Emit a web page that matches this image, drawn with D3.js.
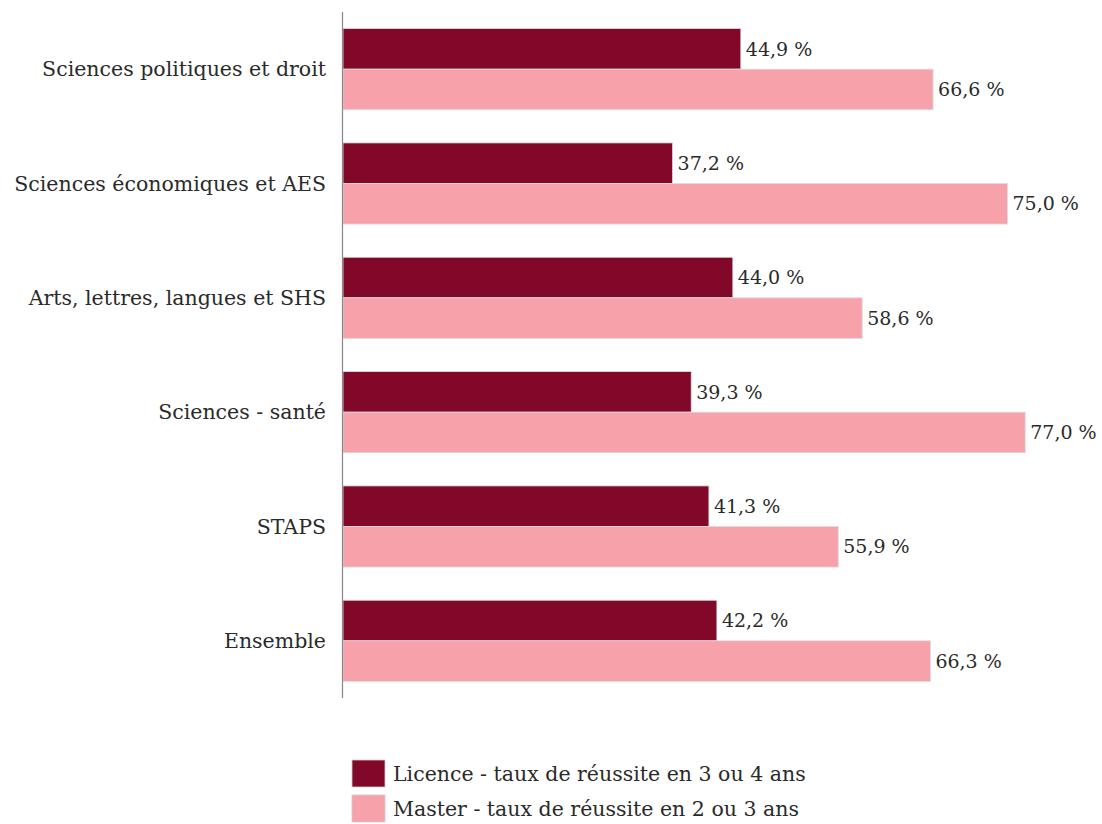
<!DOCTYPE html>
<html>
<head>
<meta charset="utf-8">
<script src="https://cdn.jsdelivr.net/npm/d3@7"></script>
<style>
  body { margin: 0; background: #fff; }
  text { font-family: "DejaVu Serif", serif; fill: #2a2a2a; }
</style>
</head>
<body>
<div id="chart"></div>
<script>
const categories = [
    "Sciences politiques et droit",
    "Sciences économiques et AES",
    "Arts, lettres, langues et SHS",
    "Sciences - santé",
    "STAPS",
    "Ensemble"
]
const licence = [44.9, 37.2, 44.0, 39.3, 41.3, 42.2]
const master = [66.6, 75.0, 58.6, 77.0, 55.9, 66.3]
const seriesNames = [
    "Licence - taux de réussite en 3 ou 4 ans",
    "Master - taux de réussite en 2 ou 3 ans"
]
const colors = ["#82082a", "#f7a1ab"]

const width = 1102, height = 824
const left = 343

const svg = d3.select("#chart").append("svg")
    .attr("width", width)
    .attr("height", height)

const x = d3.scaleLinear()
    .domain([0, 100])
    .range([left, left + 886])

const y = d3.scaleBand()
    .domain(categories)
    .range([12, 698])
    .paddingInner(0.29)
    .paddingOuter(0.145)

const sub = d3.scaleBand()
    .domain([0, 1])
    .range([0, y.bandwidth()])

const fmt = v => d3.format(".1f")(v).replace(".", ",") + " %"

const rows = categories.map((c, i) => ({ cat: c, vals: [licence[i], master[i]] }))

const g = svg.selectAll("g.row")
    .data(rows)
    .enter().append("g")
    .attr("class", "row")
    .attr("transform", d => `translate(0,${y(d.cat)})`)

g.selectAll("rect")
    .data(d => d.vals)
    .enter().append("rect")
    .attr("x", x(0))
    .attr("y", (d, i) => sub(i))
    .attr("width", d => x(d) - x(0))
    .attr("height", sub.bandwidth())
    .attr("fill", (d, i) => colors[i])
    .attr("stroke", "#ddd")
    .attr("stroke-width", 0.8)

g.selectAll("text.val")
    .data(d => d.vals)
    .enter().append("text")
    .attr("class", "val")
    .attr("x", d => x(d) + 5)
    .attr("y", (d, i) => sub(i) + sub.bandwidth() / 2)
    .attr("dy", "0.35em")
    .attr("font-size", 19)
    .text(fmt)

g.append("text")
    .attr("x", left - 17)
    .attr("y", y.bandwidth() / 2)
    .attr("dy", "0.35em")
    .attr("text-anchor", "end")
    .attr("font-size", 20.5)
    .text(d => d.cat)

// vertical axis line
svg.append("line")
    .attr("x1", left - 0.5).attr("x2", left - 0.5)
    .attr("y1", 12).attr("y2", 698)
    .attr("stroke", "#888")
    .attr("stroke-width", 1.2)

// legend
const leg = svg.selectAll("g.leg")
    .data(seriesNames)
    .enter().append("g")
    .attr("class", "leg")
    .attr("transform", (d, i) => `translate(352,${760 + i * 35})`)

leg.append("rect")
    .attr("width", 33)
    .attr("height", 27)
    .attr("fill", (d, i) => colors[i])
    .attr("stroke", "#ccc")
    .attr("stroke-width", 0.8)

leg.append("text")
    .attr("x", 41)
    .attr("y", 14)
    .attr("dy", "0.35em")
    .attr("font-size", 20.5)
    .text(d => d)
</script>
</body>
</html>
